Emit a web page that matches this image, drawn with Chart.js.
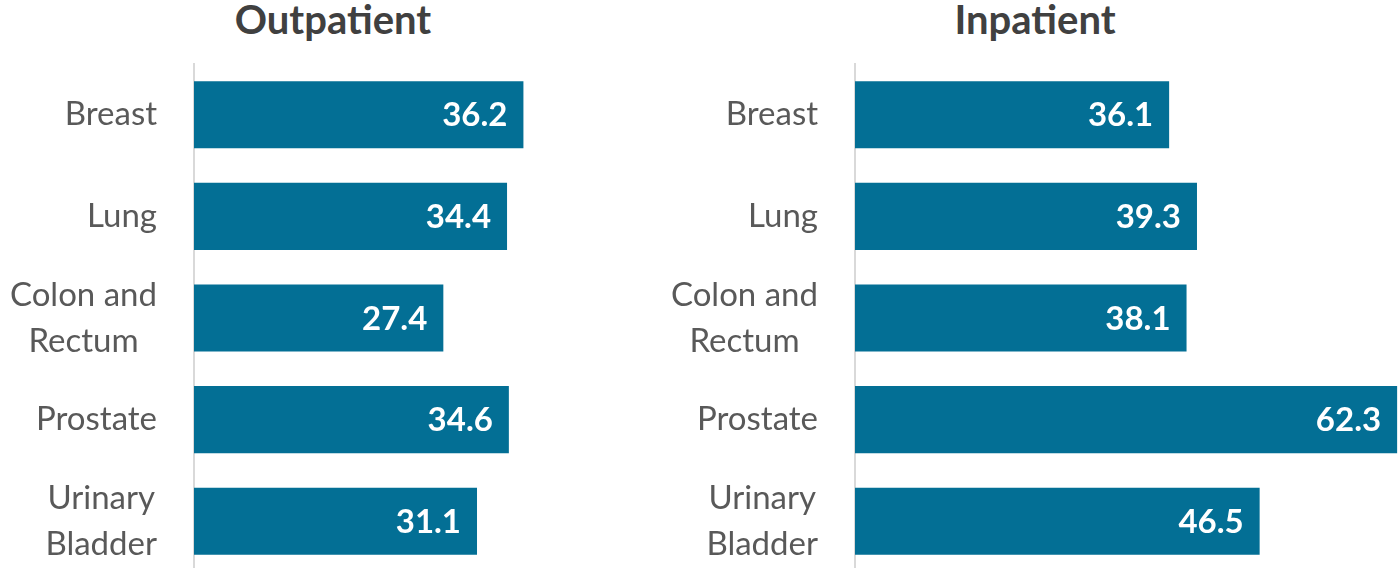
<!DOCTYPE html>
<html lang="en">
<head>
  <meta charset="UTF-8" />
  <title>Outpatient vs Inpatient</title>
  <script src="https://cdn.jsdelivr.net/npm/chart.js"></script>
  <style>
    html, body { margin: 0; padding: 0; background: #fff; overflow: hidden; }
    body { width: 1398px; height: 568px; position: relative; font-family: Lato, "Open Sans", sans-serif; }
    .title { position: absolute; top: -5px; font-weight: bold; font-size: 40px; color: #404040; text-align: center; width: 300px; }
    .box { position: absolute; top: 0; height: 572px; }
  </style>
</head>
<body>
  <div class="title" style="left:183px">Outpatient</div>
  <div class="title" style="left:885px">Inpatient</div>

  <div class="box" style="left:0; width:558px"><canvas id="outChart"></canvas></div>
  <div class="box" style="left:661px; width:737px"><canvas id="inChart"></canvas></div>

  <script>
    const categories = [['Breast'], ['Lung'], ['Colon and', 'Rectum'], ['Prostate'], ['Urinary', 'Bladder']];
    const outpatient = [36.2, 34.4, 27.4, 34.6, 31.1];
    const inpatient = [36.1, 39.3, 38.1, 62.3, 46.5];

    const barColor = '#036F95';

    // labels: right edge fixed, multi-line labels centered on their widest line
    const catLabels = {
      id: 'catLabels',
      afterDraw(chart) {
        const ctx = chart.ctx;
        const y = chart.scales.y;
        const right = y.right - 37;
        ctx.save();
        ctx.font = '33px Lato, sans-serif';
        ctx.fillStyle = '#595959';
        ctx.textAlign = 'center';
        ctx.textBaseline = 'middle';
        const lh = 46;
        categories.forEach((lines, i) => {
          const cy = y.getPixelForValue(i);
          const w = Math.max(...lines.map(l => ctx.measureText(l).width));
          const cx = right - w / 2;
          lines.forEach((l, j) => {
            ctx.fillText(l, cx, cy + (j - (lines.length - 1) / 2) * lh);
          });
        });
        ctx.restore();
      }
    };

    const valueLabels = {
      id: 'valueLabels',
      afterDatasetsDraw(chart) {
        const ctx = chart.ctx;
        const meta = chart.getDatasetMeta(0);
        const vals = chart.data.datasets[0].data;
        ctx.save();
        ctx.font = 'bold 33px Lato, sans-serif';
        ctx.fillStyle = '#ffffff';
        ctx.textAlign = 'right';
        ctx.textBaseline = 'middle';
        meta.data.forEach((bar, i) => {
          ctx.fillText(vals[i].toFixed(1), bar.x - 16, bar.y + 1);
        });
        ctx.restore();
      }
    };

    function makeChart(id, values, max) {
      return new Chart(document.getElementById(id), {
        type: 'bar',
        data: {
          labels: categories.map(c => c.join(' ')),
          datasets: [{
            data: values,
            backgroundColor: barColor,
            categoryPercentage: 1,
            barPercentage: 0.66
          }]
        },
        options: {
          indexAxis: 'y',
          responsive: true,
          maintainAspectRatio: false,
          animation: false,
          layout: { padding: { top: 64, right: 0, bottom: 0, left: 0 } },
          plugins: { legend: { display: false }, tooltip: { enabled: false }, title: { display: false } },
          scales: {
            x: { display: false, min: 0, max: max },
            y: {
              grid: { display: false },
              border: { display: true, color: '#d9d9d9', width: 2 },
              ticks: { display: false },
              afterFit(scale) { scale.width = 194; }
            }
          }
        },
        plugins: [catLabels, valueLabels]
      });
    }

    makeChart('outChart', outpatient, 40);
    makeChart('inChart', inpatient, 62.4);
  </script>
</body>
</html>
